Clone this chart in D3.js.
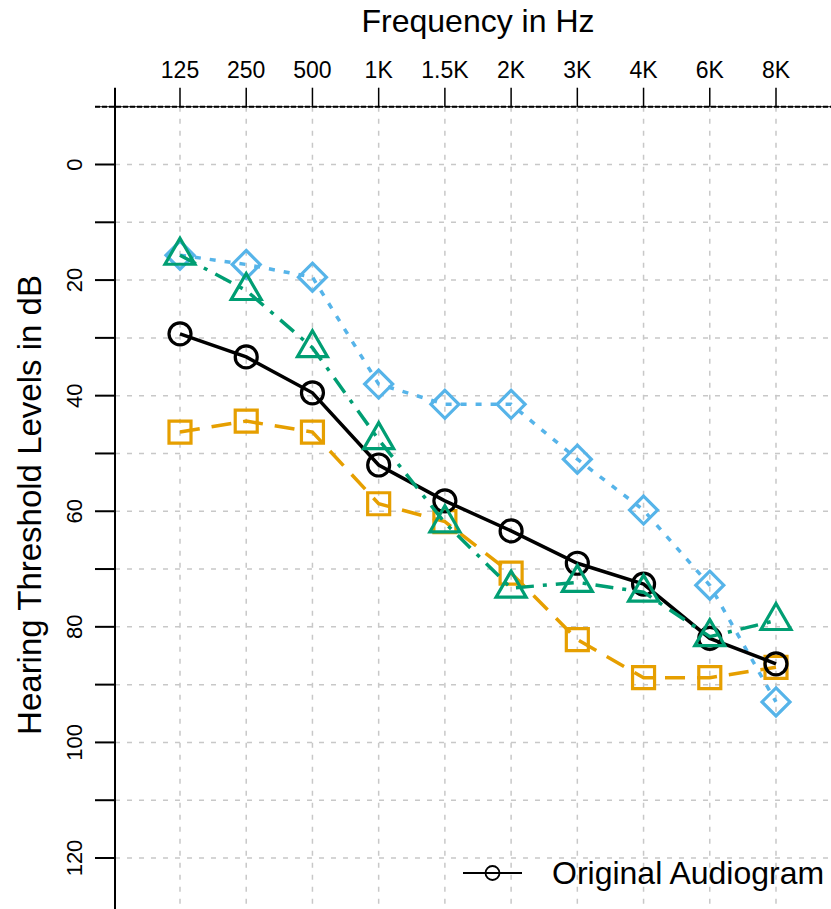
<!DOCTYPE html>
<html>
<head>
<meta charset="utf-8">
<script src="https://cdn.jsdelivr.net/npm/d3@7"></script>
<style>
  body { margin: 0; background: #fff; }
  text { font-family: "Liberation Sans", Arial, sans-serif; fill: #000; }
</style>
</head>
<body>
<svg id="chart" width="831" height="909"></svg>
<script>
const freqs = ["125", "250", "500", "1K", "1.5K", "2K", "3K", "4K", "6K", "8K"];
const original = [29.3, 33.3, 39.5, 52, 58.2, 63.4, 69, 72.6, 82, 86.4];
const orangeSq = [46.3, 44.4, 46.3, 58.7, 61.8, 70.7, 82.2, 88.8, 88.8, 87];
const greenTri = [15.7, 21.8, 31.7, 47.6, 62, 73.3, 72.3, 74, 81.7, 78.9];
const blueDia = [15.7, 17.3, 19.5, 38, 41.5, 41.5, 51, 59.8, 72.8, 93];
const yTicks = d3.range(-10, 131, 10);
const yLabels = [0, 20, 40, 60, 80, 100, 120];

const svg = d3.select("#chart");
const x = d3.scalePoint().domain(freqs).range([180, 776]);
const y = d3.scaleLinear().domain([0, 120]).range([164.5, 858]);
const axisX = 115, topY = y(-10);

// grid
svg.append("g").selectAll("line").data(freqs).join("line")
  .attr("x1", d => x(d)).attr("x2", d => x(d))
  .attr("y1", topY).attr("y2", 909)
  .attr("stroke", "#c8c8c8").attr("stroke-width", 1.5)
  .attr("stroke-dasharray", "5,7");
svg.append("g").selectAll("line").data(yTicks.filter(d => d > -10)).join("line")
  .attr("x1", axisX).attr("x2", 831)
  .attr("y1", d => y(d)).attr("y2", d => y(d))
  .attr("stroke", "#c8c8c8").attr("stroke-width", 1.5)
  .attr("stroke-dasharray", "5,7");

// top axis
svg.append("line").attr("x1", 95).attr("x2", 831).attr("y1", topY).attr("y2", topY)
  .attr("stroke", "#444").attr("stroke-width", 1.2);
svg.append("line").attr("x1", 95).attr("x2", 831).attr("y1", topY).attr("y2", topY)
  .attr("stroke", "#000").attr("stroke-width", 2).attr("stroke-dasharray", "5,2");
svg.append("g").selectAll("line").data(freqs).join("line")
  .attr("x1", d => x(d)).attr("x2", d => x(d))
  .attr("y1", topY - 19).attr("y2", topY)
  .attr("stroke", "#000").attr("stroke-width", 1.5);
svg.append("g").selectAll("text").data(freqs).join("text")
  .attr("x", d => x(d)).attr("y", 78)
  .attr("text-anchor", "middle").attr("font-size", 23)
  .text(d => d);
svg.append("text").attr("x", 478).attr("y", 32)
  .attr("text-anchor", "middle").attr("font-size", 32)
  .text("Frequency in Hz");

// left axis
svg.append("line").attr("x1", axisX).attr("x2", axisX).attr("y1", topY - 19).attr("y2", 909)
  .attr("stroke", "#000").attr("stroke-width", 2);
svg.append("g").selectAll("line").data(yTicks.filter(d => d > -10)).join("line")
  .attr("x1", 95).attr("x2", axisX)
  .attr("y1", d => y(d)).attr("y2", d => y(d))
  .attr("stroke", "#000").attr("stroke-width", 2);
svg.append("g").selectAll("text").data(yLabels).join("text")
  .attr("transform", d => `translate(82,${y(d)}) rotate(-90)`)
  .attr("text-anchor", "middle").attr("font-size", 22)
  .text(d => d);
svg.append("text").attr("transform", "translate(41,505) rotate(-90)")
  .attr("text-anchor", "middle").attr("font-size", 33)
  .text("Hearing Threshold Levels in dB");

// series
const line = d3.line().x((d, i) => x(freqs[i])).y(d => y(d));
const series = [
  { vals: blueDia, color: "#56B4E9", dash: "6,9", shape: "diamond" },
  { vals: orangeSq, color: "#E69F00", dash: "20,12", shape: "square" },
  { vals: original, color: "#000000", dash: null, shape: "circle" },
  { vals: greenTri, color: "#009E73", dash: "18,9,4,9", shape: "triangle" }
];
const shapes = {
  circle: "M-11,0A11,11 0 1,0 11,0A11,11 0 1,0 -11,0Z",
  square: "M-11,-11H11V11H-11Z",
  diamond: "M0,-14L14,0L0,14L-14,0Z",
  triangle: "M0,-17L15,9H-15Z"
};
for (const s of series) {
  svg.append("path").datum(s.vals).attr("d", line)
    .attr("fill", "none").attr("stroke", s.color).attr("stroke-width", 3.5)
    .attr("stroke-dasharray", s.dash);
  svg.append("g").selectAll("path").data(s.vals).join("path")
    .attr("transform", (d, i) => `translate(${x(freqs[i])},${y(d)})`)
    .attr("d", shapes[s.shape])
    .attr("fill", "none").attr("stroke", s.color).attr("stroke-width", 3.2);
}

// legend
const lg = svg.append("g").attr("transform", "translate(463,873)");
lg.append("line").attr("x1", 0).attr("x2", 59).attr("stroke", "#000").attr("stroke-width", 2);
lg.append("circle").attr("cx", 29.5).attr("r", 7).attr("fill", "none").attr("stroke", "#000").attr("stroke-width", 1.8);
lg.append("text").attr("x", 89).attr("y", 11).attr("font-size", 32).text("Original Audiogram");
</script>
</body>
</html>
